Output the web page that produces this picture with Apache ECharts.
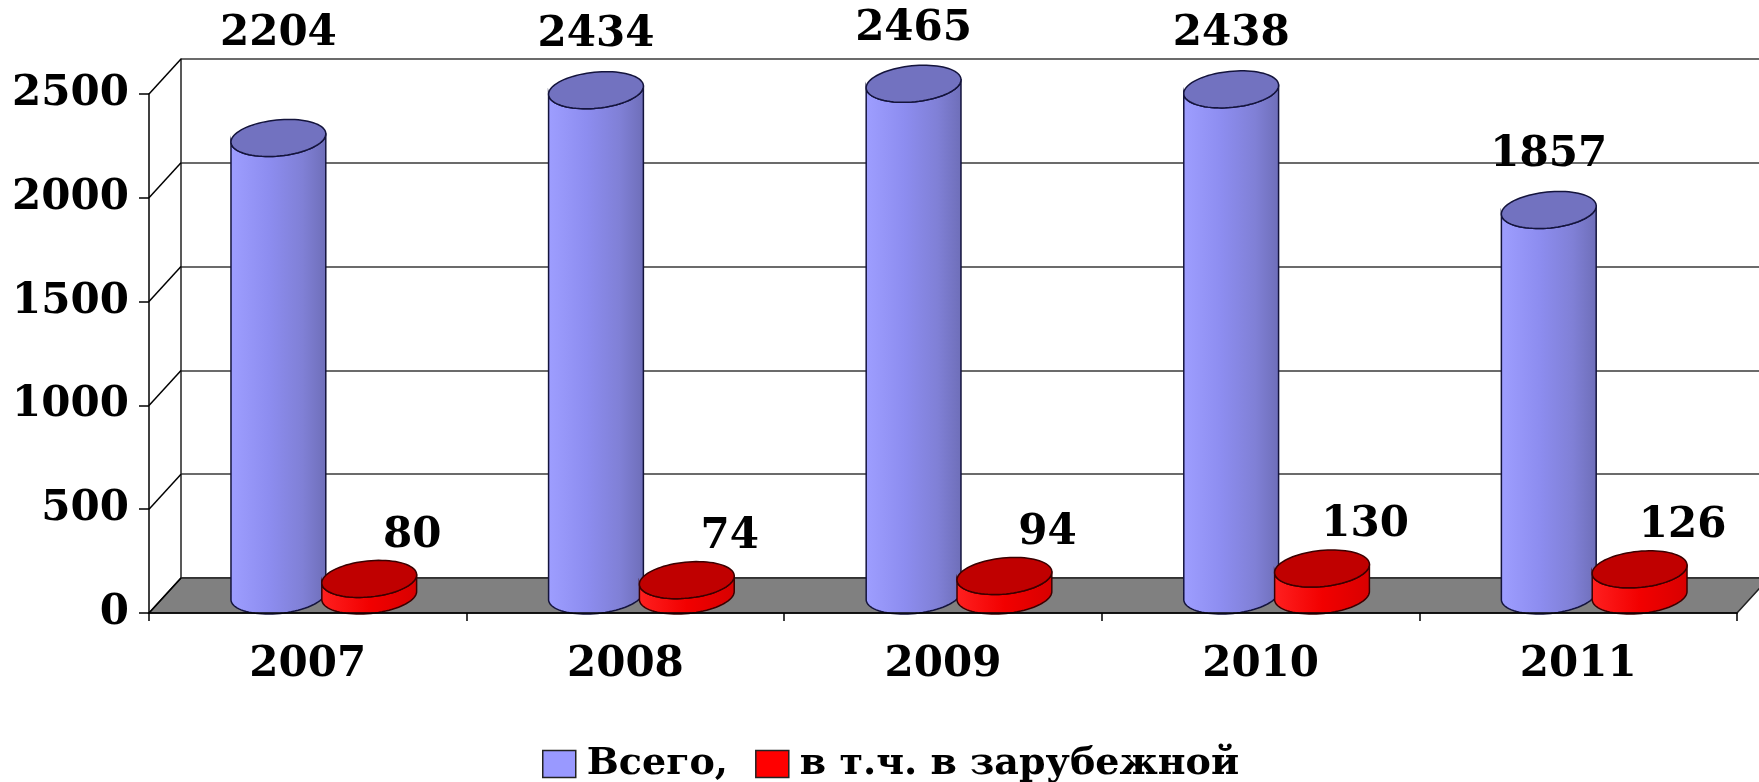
<!DOCTYPE html>
<html>
<head>
<meta charset="utf-8">
<script src="https://cdn.jsdelivr.net/npm/echarts@6/dist/echarts.min.js"></script>
<style>
  html, body { margin: 0; padding: 0; background: #fff; }
  #chart { width: 1759px; height: 782px; }
</style>
</head>
<body>
<div id="chart"></div>
<script>
// годы
var years = ['2007', '2008', '2009', '2010', '2011'];
// Всего
var totals = [2204, 2434, 2465, 2438, 1857];
// в т.ч. в зарубежной
var abroad = [80, 74, 94, 130, 126];
// деления оси y
var yTicks = [0, 500, 1000, 1500, 2000, 2500];

var FONT = '"DejaVu Serif", "Liberation Serif", serif';
var DX = 32, DY = -35; // глубина "коробки"

var chart = echarts.init(document.getElementById('chart'));

// цилиндр: side = -1 слева от центра категории, +1 справа
function cylinder(side, body, topFill, stroke, labelDx, labelDy) {
  return function (params, api) {
    var i = api.value(0), v = api.value(1);
    var band = api.size([1, 0])[0];
    var top = api.coord([i, v]);
    var bot = api.coord([i, 0]);
    var cx = top[0] + DX / 2 + side * band * 0.143;
    var yt = top[1] + DY / 2, yb = bot[1] + DY / 2;
    var rx = band * 0.15, ry = 18, th = -0.1;
    function pt(cy, t) {
      return [
        cx + rx * Math.cos(t) * Math.cos(th) - ry * Math.sin(t) * Math.sin(th),
        cy + rx * Math.cos(t) * Math.sin(th) + ry * Math.sin(t) * Math.cos(th)
      ];
    }
    var n = 40, k, side1 = [], cap = [];
    for (k = 0; k <= n; k++) side1.push(pt(yb, Math.PI * k / n));
    for (k = n; k >= 0; k--) side1.push(pt(yt, Math.PI * k / n));
    for (k = 0; k < 2 * n; k++) cap.push(pt(yt, Math.PI * k / n));
    // подпись первого столбца поднята выше, как в оригинале
    var lift = (side < 0 && params.dataIndex === 0) ? 49 : 0;
    return {
      type: 'group',
      children: [
        {
          type: 'polygon',
          shape: { points: side1 },
          style: {
            fill: new echarts.graphic.LinearGradient(0, 0, 1, 0, body),
            stroke: stroke, lineWidth: 1.5
          }
        },
        {
          type: 'polygon',
          shape: { points: cap },
          style: { fill: topFill, stroke: stroke, lineWidth: 1.5 }
        },
        {
          type: 'text',
          style: {
            text: String(v),
            x: cx + labelDx, y: yt + labelDy - lift,
            align: 'center', verticalAlign: 'middle',
            font: 'bold 42px ' + FONT,
            fill: '#000'
          }
        }
      ]
    };
  };
}

// пол и диагонали от передней оси к задней стенке
function floor(params, api) {
  var cs = params.coordSys;
  var x0 = cs.x, x1 = cs.x + cs.width, y0 = cs.y + cs.height;
  var children = [{
    type: 'polygon',
    shape: { points: [[x0, y0], [x1, y0], [x1 + DX, y0 + DY], [x0 + DX, y0 + DY]] },
    style: { fill: '#808080', stroke: '#222', lineWidth: 1.5 }
  }];
  yTicks.forEach(function (t) {
    var y = api.coord([0, t])[1];
    children.push({
      type: 'line',
      shape: { x1: x0, y1: y, x2: x0 + DX, y2: y + DY },
      style: { stroke: '#000', lineWidth: 1.5 }
    });
  });
  return { type: 'group', children: children };
}

var option = {
  backgroundColor: '#fff',
  animation: false,
  grid: [
    { left: 149, right: 22, top: 94, bottom: 169, outerBoundsMode: 'none' },
    { left: 149 + DX, right: 22 - DX, top: 94 + DY, bottom: 169 - DY, outerBoundsMode: 'none' }
  ],
  xAxis: [
    {
      gridIndex: 0, type: 'category', data: years, boundaryGap: true, z: 10,
      axisLine: { lineStyle: { color: '#000', width: 1.5 } },
      axisTick: { show: true, length: 8, lineStyle: { color: '#000', width: 1.5 } },
      axisLabel: { margin: 31, color: '#000', fontFamily: FONT, fontWeight: 'bold', fontSize: 42 },
      splitLine: { show: false }
    },
    { gridIndex: 1, type: 'category', data: years, show: false }
  ],
  yAxis: [
    {
      gridIndex: 0, type: 'value', min: 0, max: 2500, interval: 500, z: 10,
      axisLine: { show: true, lineStyle: { color: '#000', width: 1.5 } },
      axisTick: { show: true, length: 10, lineStyle: { color: '#000', width: 1.5 } },
      axisLabel: {
        margin: 20, color: '#000', fontFamily: FONT, fontWeight: 'bold', fontSize: 42,
        formatter: function (v) { return String(v); }
      },
      splitLine: { show: false }
    },
    {
      gridIndex: 1, type: 'value', min: 0, max: 2500, interval: 500,
      axisLine: { show: true, lineStyle: { color: '#222', width: 1.5 } },
      axisTick: { show: false },
      axisLabel: { show: false },
      splitLine: { show: true, lineStyle: { color: '#3a3a3a', width: 1.5 } }
    }
  ],
  legend: {
    left: 537, top: 740,
    icon: 'rect',
    itemWidth: 33, itemHeight: 27, itemGap: 27,
    itemStyle: { borderColor: '#222', borderWidth: 1.5 },
    textStyle: {
      fontFamily: FONT, fontWeight: 'bold', fontSize: 38, color: '#000',
      padding: [0, 0, 0, 6]
    },
    data: ['Всего,', 'в т.ч. в зарубежной']
  },
  series: [
    {
      type: 'custom', name: 'floor', silent: true, z: 1, clip: false,
      xAxisIndex: 0, yAxisIndex: 0,
      renderItem: floor,
      data: [[0, 0]]
    },
    {
      type: 'custom', name: 'Всего,', silent: true, z: 3, clip: false,
      xAxisIndex: 0, yAxisIndex: 0,
      itemStyle: { color: '#9999ff' },
      encode: { x: 0, y: 1 },
      renderItem: cylinder(-1,
        [{ offset: 0, color: '#9e9eff' }, { offset: 0.4, color: '#8d8df0' },
         { offset: 0.75, color: '#8080d6' }, { offset: 1, color: '#6e6eb8' }],
        '#7272c0', '#14143c', 0, -55),
      data: totals.map(function (v, i) { return [i, v]; })
    },
    {
      type: 'custom', name: 'в т.ч. в зарубежной', silent: true, z: 4, clip: false,
      xAxisIndex: 0, yAxisIndex: 0,
      itemStyle: { color: '#ff0000' },
      encode: { x: 0, y: 1 },
      renderItem: cylinder(1,
        [{ offset: 0, color: '#ff2020' }, { offset: 0.5, color: '#f20000' },
         { offset: 1, color: '#d80000' }],
        '#c00000', '#3a0000', 43, -43),
      data: abroad.map(function (v, i) { return [i, v]; })
    }
  ]
};

chart.setOption(option);
</script>
</body>
</html>
